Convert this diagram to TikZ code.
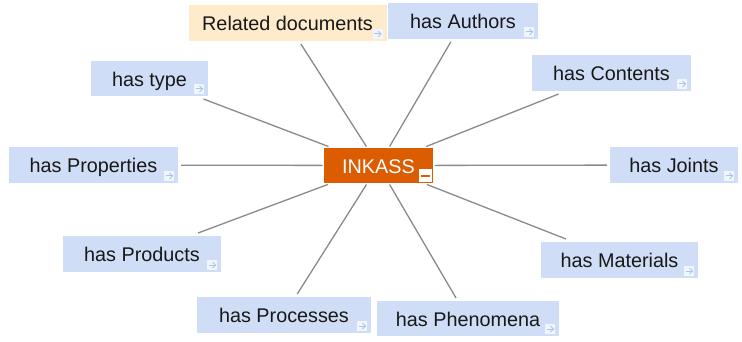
\documentclass[tikz,border=0pt]{standalone}
\usepackage{fontspec}
\setmainfont{Liberation Sans}
\usetikzlibrary{calc}

\definecolor{boxblue}{RGB}{207,222,246}
\definecolor{boxcream}{RGB}{253,235,203}
\definecolor{hubfill}{RGB}{220,92,2}
\definecolor{linkgray}{RGB}{138,138,138}
\definecolor{iconfill}{RGB}{241,246,253}
\definecolor{iconarrow}{RGB}{168,196,238}
\definecolor{labeltext}{RGB}{24,24,24}

\tikzset{
  leaf/.style={fill=boxblue, inner sep=0pt, outer sep=3pt, minimum height=36pt,
    text height=19.6pt, text depth=4pt, text=labeltext,
    font=\fontsize{19.8}{22}\selectfont},
  related/.style={leaf, fill=boxcream},
  hub/.style={leaf, fill=hubfill, text=white, outer sep=1.5pt},
  link/.style={draw=linkgray, line width=1.3pt},
  goicon/.style={fill=iconfill, minimum size=10pt, inner sep=0pt, outer sep=0pt},
  foldicon/.style={fill=white, minimum size=13pt, inner sep=0pt, outer sep=0pt}
}

\begin{document}
\begin{tikzpicture}[x=1pt, y=-1pt]
  \useasboundingbox (0,0) rectangle (742,342);

  % central concept
  \node[hub, minimum width=109pt, minimum height=35pt] (ink) at (378.5,165.5) {INKASS};

  % related topics around it
  \node[related, minimum width=198pt] (rel)  at (287.5,23)  {Related documents};
  \node[leaf, minimum width=150pt]    (auth) at (463,21)    {has Authors};
  \node[leaf, minimum width=117pt, minimum height=35pt] (type) at (149.5,78.5) {has type};
  \node[leaf, minimum width=159pt]    (cont) at (611.5,73)  {has Contents};
  \node[leaf, minimum width=169pt]    (prop) at (93.5,165)  {has Properties};
  \node[leaf, minimum width=128pt]    (join) at (674,165)   {has Joints};
  \node[leaf, minimum width=158pt]    (prod) at (142,254)   {has Products};
  \node[leaf, minimum width=157pt]    (mat)  at (619.5,260) {has Materials};
  \node[leaf, minimum width=174pt]    (proc) at (284,315)   {has Processes};
  \node[leaf, minimum width=182pt, minimum height=35pt] (phen) at (468,318.5) {has Phenomena};

  % spokes from the centre
  \foreach \n in {rel,auth,type,cont,prop,join,prod,mat,proc,phen}
    \draw[link] (ink) -- (\n);

  % "go to" icons in the lower right corners
  \foreach \n in {rel,auth,type,cont,prop,join,prod,mat,proc,phen} {
    \node[goicon] (\n-go) at ($(\n.south east)+(-12,-10)$) {};
    \draw[iconarrow, line width=1pt] ($(\n-go.center)+(-3.5,0)$) -- ($(\n-go.center)+(3.5,0)$);
    \draw[iconarrow, line width=1pt] ($(\n-go.center)+(0.5,-3)$) -- ($(\n-go.center)+(3.5,0)$) -- ($(\n-go.center)+(0.5,3)$);
  }

  % collapse icon of the centre node
  \node[foldicon] (ink-fold) at ($(ink.south east)+(-9.5,-8.5)$) {};
  \draw[hubfill, line width=2pt] ($(ink-fold.center)+(-4.5,0.5)$) -- ($(ink-fold.center)+(4.5,0.5)$);
\end{tikzpicture}
\end{document}
